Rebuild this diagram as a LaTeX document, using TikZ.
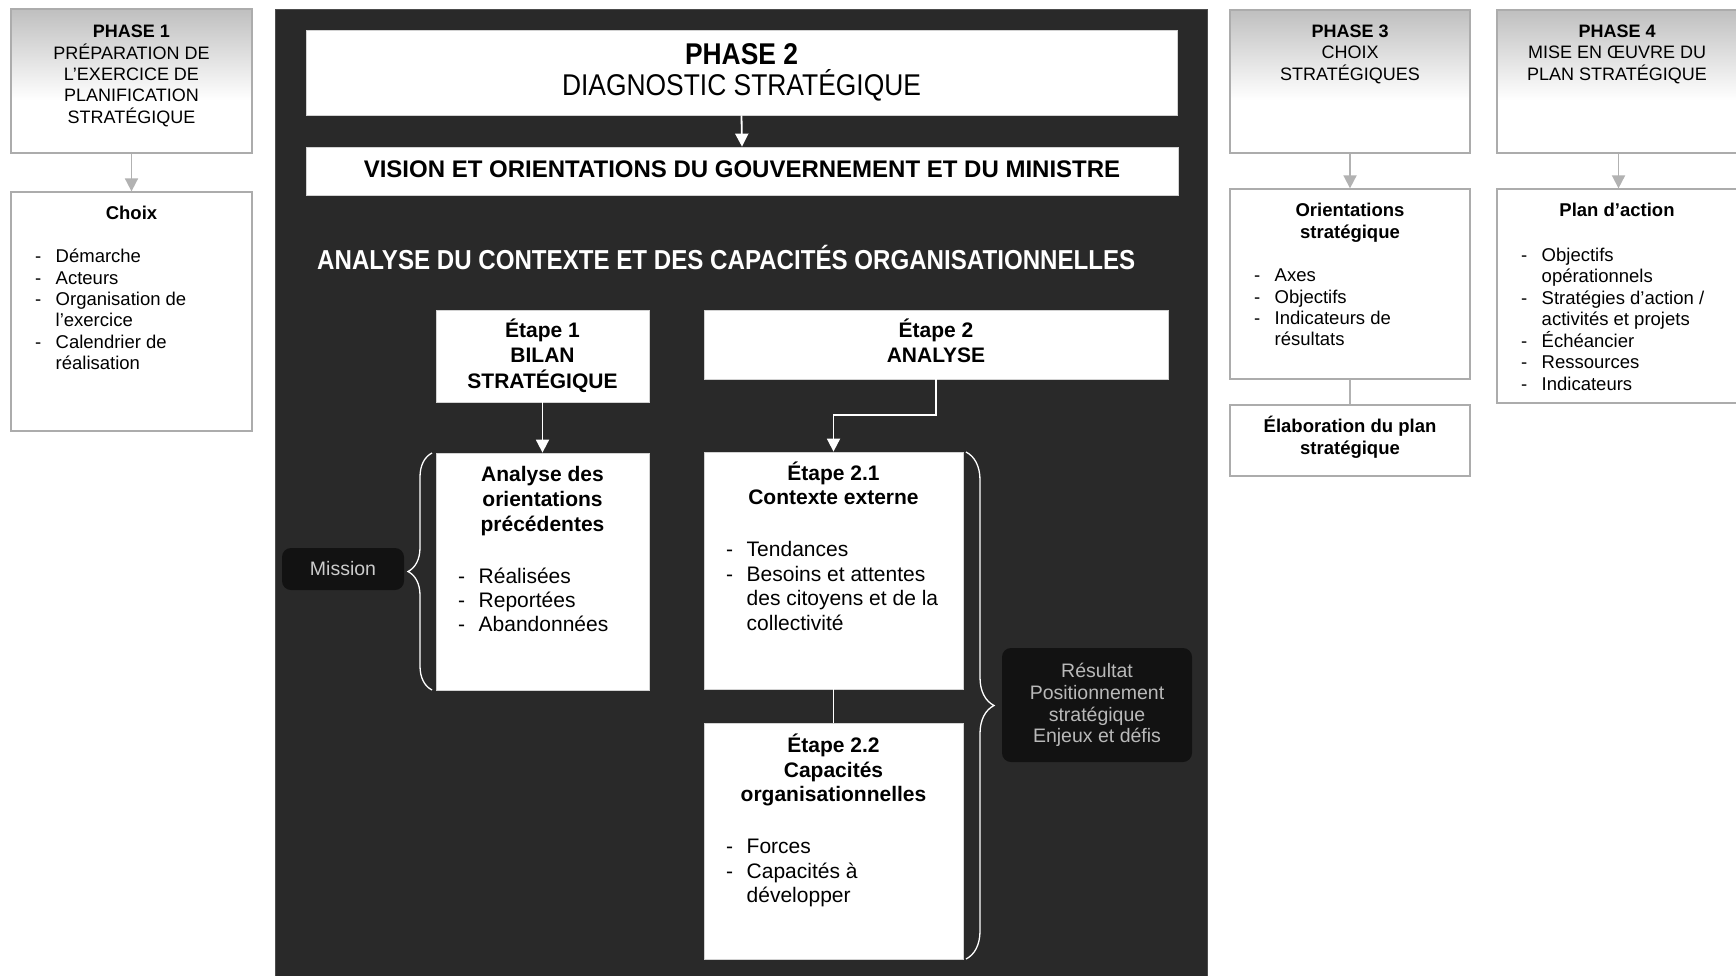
\documentclass[tikz,border=0pt]{standalone}
\usepackage{fontspec}
\setmainfont{Liberation Sans}
\newfontfamily\cond[FakeStretch=0.88]{Liberation Sans}
\usetikzlibrary{arrows.meta,fit,decorations.pathreplacing,calc}
\newcommand\ctab[1]{\begin{tabular}[t]{@{}c@{}}#1\end{tabular}}
\newcommand\ltab[1]{\begin{tabular}[t]{@{}p{20.5pt}@{}l@{}}#1\end{tabular}}
\newcommand\fsz[2]{\fontsize{#1}{#2}\selectfont}
\tikzset{
  phasebox/.style={draw=gray!65, line width=1.3pt, inner sep=0pt},
  sidebox/.style={draw=gray!65, line width=1.3pt, fill=white, inner sep=0pt},
  wbox/.style={draw=gray!35, line width=0.8pt, fill=white, inner sep=0pt},
  dbox/.style={fill=black!93, rounded corners=9pt, inner sep=0pt},
  panelbox/.style={fill=black!84, draw=black!70, line width=1pt, inner sep=0pt},
  txt/.style={inner sep=0pt, anchor=base},
  ltxt/.style={inner sep=0pt, anchor=base west},
  garrow/.style={draw=gray!60, line width=1.8pt, -{Triangle[length=13pt,width=13pt]}},
  warrow/.style={draw=white, line width=1.8pt, -{Triangle[length=13pt,width=13pt]}},
  wline/.style={draw=white, line width=1.8pt},
  gline/.style={draw=gray!60, line width=1.8pt},
  wbrace/.style={draw=white, line width=1.3pt, decorate, decoration={brace, amplitude=#1}},
}
\begin{document}
\begin{tikzpicture}[x=1pt,y=-1pt]
\useasboundingbox (0,0) rectangle (1736,975);
\fill[white] (0,0) rectangle (1736,975);

% ---------- PHASE 1 ----------
\shade[top color=gray!50,bottom color=white] (11,9) rectangle (252,100);
\node[phasebox, fit={(11,9)(252,153)}] (p1) {};
\node[txt, font=\fsz{18}{21}] (p1t) at (131.5,37.5) {\ctab{\textbf{PHASE 1}\\PRÉPARATION DE\\L'EXERCICE DE\\PLANIFICATION\\STRATÉGIQUE}};
\node[sidebox, fit={(11,192)(252,431)}] (c1) {};
\node[txt, font=\bfseries\fsz{18.5}{21.4}] (c1t) at (131.5,219.5) {Choix};
\node[ltxt, font=\fsz{18.5}{21.4}] (c1l) at (35,262.7) {\ltab{-&Démarche\\-&Acteurs\\-&Organisation de\\&l'exercice\\-&Calendrier de\\&réalisation}};
\draw[garrow] (p1.south) -- (c1.north);

% ---------- PHASE 2 panel ----------
\node[panelbox, fit={(275,9)(1207,985)}] (panel) {};
\node[wbox, fit={(306,30)(1177,115)}] (p2) {};
\node[txt, font=\cond\bfseries\fsz{30}{31}] (p2a) at (741.5,64.7) {PHASE 2};
\node[txt, font=\cond\fsz{30}{31}] (p2b) at (741.5,95.7) {DIAGNOSTIC STRATÉGIQUE};
\node[wbox, fit={(306,147)(1178,195)}] (vis) {};
\node[txt, font=\bfseries\fsz{24}{26}] (vist) at (742,177.6) {VISION ET ORIENTATIONS DU GOUVERNEMENT ET DU MINISTRE};
\draw[warrow] (p2.south) -- (vis.north);
\node[ltxt, text=white, font=\cond\bfseries\fsz{27.4}{28}] (ana) at (317,269.7) {ANALYSE DU CONTEXTE ET DES CAPACITÉS ORGANISATIONNELLES};

% Etape 1
\node[wbox, fit={(436,310)(649,402)}] (e1) {};
\node[txt, font=\bfseries\fsz{21}{25}] (e1t) at (542.5,337.3) {\ctab{Étape 1\\BILAN\\STRATÉGIQUE}};
\node[wbox, fit={(436,453)(649,690)}] (an) {};
\node[txt, font=\bfseries\fsz{21}{25}] (ant) at (542.5,481.5) {\ctab{Analyse des\\orientations\\précédentes}};
\node[ltxt, font=\fsz{21}{24}] (anl) at (458,583.5) {\ltab{-&Réalisées\\-&Reportées\\-&Abandonnées}};
\draw[warrow] (e1.south) -- (an.north);

% Etape 2
\node[wbox, fit={(704,310)(1168,379)}] (e2) {};
\node[txt, font=\bfseries\fsz{21}{25}] (e2t) at (936,337.3) {\ctab{Étape 2\\ANALYSE}};
\node[wbox, fit={(704,452)(963,689)}] (e21) {};
\node[txt, font=\bfseries\fsz{21}{24}] (e21t) at (833.5,480.5) {\ctab{Étape 2.1\\Contexte externe}};
\node[ltxt, font=\fsz{21}{24.5}] (e21l) at (726,556.5) {\ltab{-&Tendances\\-&Besoins et attentes\\&des citoyens et de la\\&collectivité}};
\node[wbox, fit={(704,723)(963,959)}] (e22) {};
\node[txt, font=\bfseries\fsz{21}{24.5}] (e22t) at (833.5,752.5) {\ctab{Étape 2.2\\Capacités\\organisationnelles}};
\node[ltxt, font=\fsz{21}{24.5}] (e22l) at (726,853.5) {\ltab{-&Forces\\-&Capacités à\\&développer}};
\coordinate (e2j) at (936,415);
\draw[warrow] (e2.south) -- (e2j) -| (e21.north);
\draw[wline] (e21.south) -- (e22.north);

% Braces and side labels
\draw[wbrace=24pt] (432,690) -- (432,453);
\node[dbox, minimum width=122, minimum height=42, text=gray!40, font=\fsz{19.5}{21}] (mis) at (343,569) {Mission};
\draw[wbrace=28pt] (966,452) -- (966,959);
\node[dbox, minimum width=190, minimum height=114, align=center, text=gray!55, font=\fsz{19.5}{21.7}] (res) at (1097,705) {Résultat\\Positionnement\\stratégique\\Enjeux et défis};

% ---------- PHASE 3 ----------
\shade[top color=gray!50,bottom color=white] (1230,10) rectangle (1470,100);
\node[phasebox, fit={(1230,10)(1470,153)}] (p3) {};
\node[txt, font=\fsz{18}{21.3}] (p3t) at (1350,37.5) {\ctab{\textbf{PHASE 3}\\CHOIX\\STRATÉGIQUES}};
\node[sidebox, fit={(1230,189)(1470,379)}] (o3) {};
\node[txt, font=\bfseries\fsz{18.5}{22}] (o3t) at (1350,216.7) {\ctab{Orientations\\stratégique}};
\node[ltxt, font=\fsz{18.5}{21.3}] (o3l) at (1254,281.7) {\ltab{-&Axes\\-&Objectifs\\-&Indicateurs de\\&résultats}};
\node[sidebox, fit={(1230,405)(1470,476)}] (el) {};
\node[txt, font=\bfseries\fsz{18.5}{22}] (elt) at (1350,432.7) {\ctab{Élaboration du plan\\stratégique}};
\draw[garrow] (p3.south) -- (o3.north);
\draw[gline] (o3.south) -- (el.north);

% ---------- PHASE 4 ----------
\shade[top color=gray!50,bottom color=white] (1497,10) rectangle (1740,100);
\node[phasebox, fit={(1497,10)(1740,153)}] (p4) {};
\node[txt, font=\fsz{18}{21.3}] (p4t) at (1617,37.5) {\ctab{\textbf{PHASE 4}\\MISE EN ŒUVRE DU\\PLAN STRATÉGIQUE}};
\node[sidebox, fit={(1497,189)(1740,403)}] (pa) {};
\node[txt, font=\bfseries\fsz{18.5}{22}] (pat) at (1617,216.7) {Plan d'action};
\node[ltxt, font=\fsz{18.5}{21.2}] (pal) at (1521,261.7) {\ltab{-&Objectifs\\&opérationnels\\-&Stratégies d'action /\\&activités et projets\\-&Échéancier\\-&Ressources\\-&Indicateurs}};
\draw[garrow] (p4.south) -- (pa.north);
\end{tikzpicture}
\end{document}
